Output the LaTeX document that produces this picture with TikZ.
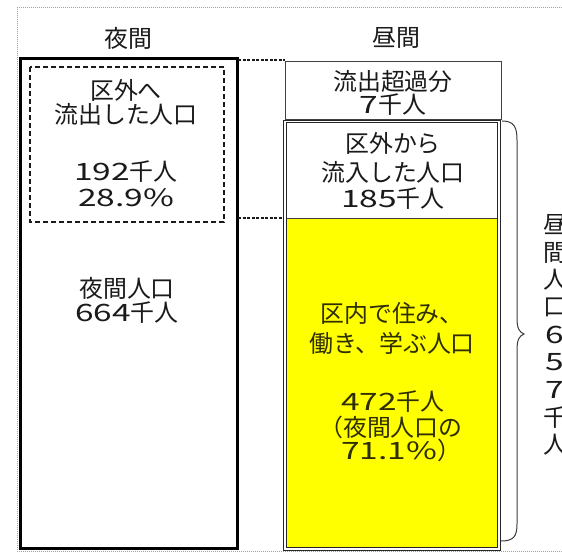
\documentclass[tikz,border=0pt]{standalone}
\usepackage{fontspec}
\setmainfont{Noto Sans CJK JP}
\newfontfamily\wdfont[FakeStretch=1.4]{Noto Sans CJK JP}
\newcommand\numw[1]{{\wdfont #1}}
\definecolor{txt}{HTML}{1A1A1A}
\definecolor{olv}{HTML}{2E2E00}
\definecolor{frm}{HTML}{A0A0A0}
\definecolor{ylw}{HTML}{FFFF00}
\begin{document}
\begin{tikzpicture}[x=1bp,y=-1bp,
  lbl/.style={font=\fontsize{24}{28}\selectfont, text=txt, inner sep=0pt},
  ylbl/.style={lbl, text=olv},
  framedot/.style={draw=frm, line width=1bp, dash pattern=on 1bp off 1bp},
  linkdot/.style={draw=txt, line width=1.8bp, dash pattern=on 3bp off 1.5bp},
  thickbox/.style={draw=black, line width=3bp},
  dashbox/.style={draw=txt, line width=1.3bp, dash pattern=on 5bp off 3bp},
  thinbox/.style={draw=black!75, line width=0.9bp},
  dblbox/.style={draw=black!85, line width=1bp, double=white, double distance=1.8bp}]
\useasboundingbox (0,0) rectangle (562,552);
\fill[white] (0,0) rectangle (562,552);
% outer dotted frame
\draw[framedot] (600,8) -- (17,8) -- (17,551) -- (600,551);
% headers
\node[lbl] (hNight) at (128,38) {夜間};
\node[lbl] (hDay) at (396,38) {昼間};
% left boxes
\coordinate (LtopL) at (20,59);
\coordinate (LbotR) at (237,548);
\draw[thickbox] (LtopL) rectangle (LbotR);
\coordinate (DtopL) at (30,67);
\coordinate (DbotR) at (224,222);
\draw[dashbox] (DtopL) rectangle (DbotR);
% right boxes
\coordinate (EtopL) at (285,61);
\coordinate (EbotR) at (501,119);
\draw[thinbox] (EtopL) rectangle (EbotR);
\coordinate (BtopL) at (285,121.5);
\coordinate (Bmid) at (285,218);
\coordinate (BmidR) at (499,218);
\coordinate (BbotR) at (499,549);
\fill[ylw] (Bmid) rectangle (BbotR);
\draw[thinbox] (Bmid) -- (BmidR);
\draw[dblbox] (BtopL) rectangle (BbotR);
% dotted links
\coordinate (k1a) at (238,60);
\coordinate (k1b) at (285,60);
\coordinate (k2a) at (238,218);
\coordinate (k2b) at (284,218);
\draw[linkdot] (k1a) -- (k1b);
\draw[linkdot] (k2a) -- (k2b);
% brace
\coordinate (brT) at (502,121);
\coordinate (brM) at (524,334);
\coordinate (brB) at (501,541);
\draw[draw=txt!85, line width=1bp] (brT) .. controls (514,121) and (517,127) .. (517,140)
  -- (517,318) .. controls (517,328) and (519,332) .. (brM)
  .. controls (519,336) and (517,340) .. (517,350)
  -- (517,524) .. controls (517,536) and (514,541) .. (brB);
% left texts
\node[lbl] (l1) at (126,90) {区外へ};
\node[lbl] (l2) at (126,114) {流出した人口};
\node[lbl] (l3) at (126,172) {\numw{192}千人};
\node[lbl] (l4) at (126,198) {\numw{28.9\%}};
\node[lbl] (l5) at (127,288) {夜間人口};
\node[lbl] (l6) at (127,313) {\numw{664}千人};
% right texts
\node[lbl] (r1) at (393,81) {流出超過分};
\node[lbl] (r2) at (393,105) {\numw{7}千人};
\node[lbl] (r3) at (393,143) {区外から};
\node[lbl] (r4) at (393,172) {流入した人口};
\node[lbl] (r5) at (393,199) {\numw{185}千人};
\node[ylbl] (y1) at (392,313) {区内で住み、};
\node[ylbl] (y2) at (392,343) {働き、学ぶ人口};
\node[ylbl, anchor=west] (y3) at (341,402) {\numw{472}千人};
\node[ylbl, anchor=west] (y4) at (319,427) {（夜間人口の};
\node[ylbl, anchor=west] (y5) at (341,450) {\numw{71.1\%}）};
% vertical text (cut off at the right edge, as in the reference)
\foreach \c [count=\i from 0] in {昼,間,人,口,\numw{6},\numw{5},\numw{7},千,人}{
  \node[lbl] (v\i) at (555,{225+27.5*\i}) {\c};
}
\end{tikzpicture}
\end{document}
